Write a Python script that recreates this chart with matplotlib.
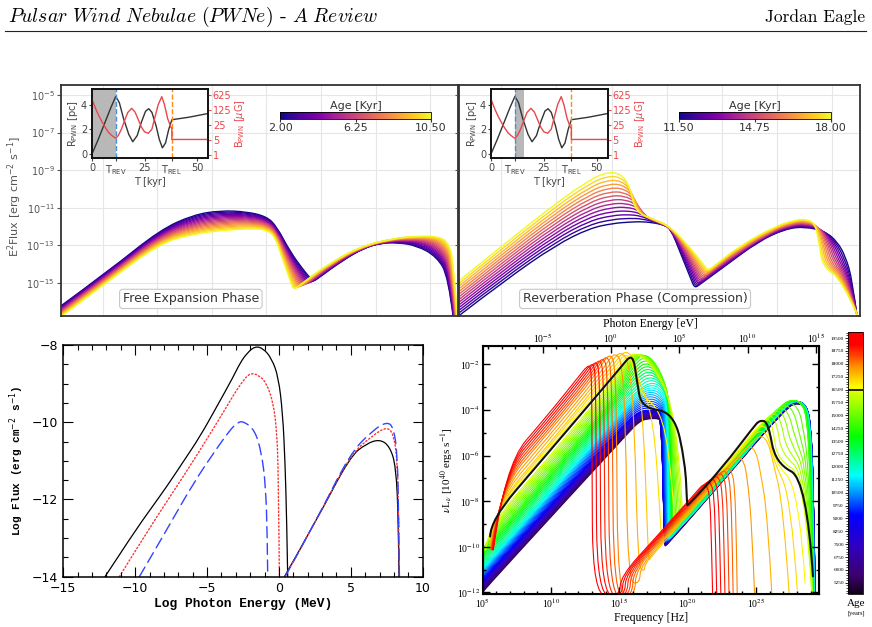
import numpy as np
import matplotlib
matplotlib.use("Agg")
import matplotlib.pyplot as plt
from matplotlib.colors import LinearSegmentedColormap, Normalize
from matplotlib.cm import ScalarMappable
from matplotlib.lines import Line2D
from matplotlib.path import Path
from matplotlib.patches import PathPatch
from matplotlib.ticker import MultipleLocator, NullFormatter

plt.rcParams['font.family'] = ['DejaVu Sans']
plt.rcParams['font.serif'] = ['Liberation Serif', 'DejaVu Serif']

# ---------------- data ----------------
# top panels: log10 photon energy [eV] vs log10 E^2 flux, first and last age of each fan
free_ages = [2.0, 2.5, 3.0, 3.5, 4.0, 4.5, 5.0, 5.5, 6.0, 6.5, 7.0, 7.5, 8.0, 8.5, 9.0, 9.5, 10.0, 10.5]
free_key_ages = [2.0, 10.5]
free_logE = [
    [-5.365, -2.613, 0.139, 1.974, 3.442, 4.910, 6.011, 6.561, 7.295, 8.029, 8.45, 8.580, 8.95, 10.231, 11.332, 12.250, 13.167, 14.268, 15.369, 16.011, 16.286],
    [-5.365, -2.613, 0.139, 1.974, 3.809, 5.277, 6.011, 6.470, 6.837, 7.295, 7.40, 7.516, 7.80, 9.314, 11.148, 12.983, 14.451, 15.552, 16.011, 16.286, 16.507],
]
free_logF = [
    [-16.26, -14.31, -12.18, -11.38, -11.15, -11.21, -11.47, -12.00, -13.33, -14.31, -14.79, -14.93, -14.67, -13.78, -13.16, -12.89, -12.85, -13.01, -13.60, -14.66, -16.90],
    [-16.83, -14.84, -12.89, -12.39, -12.18, -12.11, -12.18, -12.54, -13.60, -14.84, -15.15, -15.34, -15.14, -14.04, -13.07, -12.62, -12.50, -12.54, -12.89, -13.78, -16.90],
]

rev_ages = [11.5, 12.0, 12.5, 13.0, 13.5, 14.0, 14.5, 15.0, 15.5, 16.0, 16.5, 17.0, 17.5, 18.0]
rev_key_ages = [11.5, 18.0]
rev_logE = [
    [-5.255, -2.778, -0.025, 1.809, 3.094, 4.011, 4.745, 5.479, 5.846, 6.213, 6.763, 7.35, 7.534, 7.85, 9.149, 10.983, 12.451, 13.552, 14.653, 15.295, 15.754, 16.121, 16.396],
    [-5.255, -2.778, -0.025, 1.809, 2.727, 3.461, 3.975, 4.286, 5.204, 6.213, 7.314, 8.05, 8.268, 8.60, 10.066, 11.901, 13.002, 13.644, 14.103, 14.341, 14.506, 15.571, 16.488],
]
rev_logF = [
    [-16.70, -14.84, -12.98, -12.09, -11.83, -11.76, -11.74, -11.83, -11.93, -12.09, -13.42, -14.85, -15.28, -15.05, -14.13, -12.80, -12.13, -12.00, -12.27, -12.80, -13.60, -14.84, -16.90],
    [-14.84, -12.89, -10.76, -9.52, -9.11, -9.17, -9.79, -11.21, -11.58, -12.00, -13.16, -14.07, -14.34, -14.09, -12.98, -12.00, -11.65, -11.61, -11.86, -13.07, -14.13, -14.84, -16.90],
]

# inset: PWN radius and magnetic field vs time
t_rev, t_rel = 11.3, 38.0
ins_t_r = [0, 3, 6, 9, 11.3, 13, 15, 17.5, 19.4, 21.5, 23.5, 25.5, 27, 28.5, 30.5, 32, 33.5, 35, 36.5, 38, 46, 55]
ins_r = [0, 1.2, 2.5, 3.8, 4.7, 4.2, 2.9, 1.6, 1.0, 1.5, 2.6, 3.5, 3.7, 3.4, 2.3, 1.2, 0.5, 0.9, 2.0, 2.8, 3.0, 3.3]
ins_t_b = [0, 1, 2, 3.5, 5, 6.5, 8, 9.5, 11.3, 12.5, 14, 15.5, 17, 18.9, 20.5, 22, 23.5, 25, 26.8, 28.5, 30, 31.5, 33.2, 34.5, 36, 37.5, 38, 38, 55]
ins_b = [400, 220, 125, 60, 32, 18, 11, 8, 6.0, 8, 16, 40, 95, 150, 100, 45, 20, 12, 10.3, 16, 60, 220, 525, 220, 50, 20, 17.5, 5.3, 5.3]

# bottom left: log photon energy [MeV] vs log flux
bl_black_x = [-12.10, -10.13, -8.97, -7.81, -6.65, -5.49, -4.33, -3.17, -2.71, -2.24, -1.67, -1.08, -0.51, -0.04, 0.26, 0.42, 0.54, 0.61]
bl_black_y = [-14.0, -12.88, -12.27, -11.67, -11.02, -10.37, -9.60, -8.82, -8.47, -8.22, -8.03, -8.09, -8.35, -8.82, -9.77, -10.98, -12.53, -14.0]
bl_red_x = [-11.10, -8.97, -6.65, -4.33, -3.17, -2.55, -2.01, -1.40, -0.85, -0.39, -0.16, -0.04, 0.03]
bl_red_y = [-14.0, -12.71, -11.41, -10.03, -9.30, -8.95, -8.72, -8.78, -8.99, -9.51, -10.20, -11.24, -14.0]
bl_blue_x = [-9.71, -7.81, -5.96, -4.33, -3.40, -2.94, -2.52, -1.67, -1.20, -0.92, -0.81, -0.78]
bl_blue_y = [-14.0, -12.79, -11.58, -10.68, -10.20, -10.03, -9.96, -10.20, -10.81, -11.67, -12.97, -14.0]
bl_ic_x = [0.38, 2.63, 4.94, 6.10, 7.03, 7.72, 8.14, 8.31, 8.35]
bl_ic_black = [-14.0, -12.53, -10.89, -10.55, -10.44, -10.63, -11.15, -12.53, -14.0]
bl_ic_x2 = [0.42, 2.63, 4.94, 6.56, 7.50, 7.96, 8.24, 8.33, 8.38]
bl_ic_red = [-14.0, -12.53, -10.85, -10.33, -10.12, -10.29, -10.98, -12.53, -14.0]
bl_ic_blue = [-14.0, -12.53, -10.81, -10.20, -9.99, -10.12, -10.81, -12.53, -14.0]

# bottom right: log frequency [Hz] vs log nuL_nu, spectra read at key ages [yr]
br_ages = np.arange(5250, 19501, 250)
br_key_ages = [5250, 9000, 12000, 14500, 16250, 16500, 17250, 18000, 19500]
br_lognu = [
    [4.98, 5.00, 10.41, 15.54, 16.51, 17.24, 17.73, 18.07, 18.27, 18.34, 18.39, 22.61, 27.24, 28.10, 28.71, 29.00, 29.20, 29.34],
    [4.98, 5.00, 10.41, 15.54, 16.39, 17.12, 17.73, 18.10, 18.24, 18.32, 18.37, 22.61, 27.24, 28.10, 28.71, 29.00, 29.20, 29.32],
    [4.98, 5.00, 10.41, 15.05, 16.51, 17.49, 18.27, 18.61, 18.68, 18.71, 18.76, 22.61, 27.00, 27.85, 28.59, 28.90, 29.10, 29.24],
    [4.98, 5.00, 10.41, 14.80, 16.15, 17.00, 17.98, 18.76, 18.88, 18.93, 18.98, 22.61, 26.76, 27.61, 28.34, 28.71, 28.95, 29.15],
    [5.24, 5.34, 9.68, 14.80, 15.66, 16.27, 17.49, 18.90, 19.49, 19.61, 19.68, 22.61, 25.17, 25.90, 26.27, 26.56, 28.59, 29.10],
    [5.54, 5.59, 9.20, 15.05, 15.98, 16.27, 16.63, 19.00, 19.83, 19.95, 20.02, 22.61, 24.80, 25.29, 25.90, 26.41, 28.71, 29.17],
    [5.54, 5.83, 9.93, 14.44, 15.24, 15.66, 16.22, 16.76, 17.10, 17.17, 17.24, 20.17, 24.56, 25.24, 25.83, 26.22, 27.00, 27.44],
    [5.59, 6.22, 9.68, 13.34, 14.02, 14.44, 14.66, 14.80, 14.88, 16.15, 16.20, 18.95, 22.37, 22.90, 23.24, 23.44, 23.56, 23.63],
    [5.78, 6.63, 9.68, 12.12, 12.61, 12.90, 12.98, 13.00, 13.05, 15.05, 15.07, 17.73, 20.66, 21.15, 21.46, 21.63, 21.73, 21.83],
]
br_logL = [
    [-12.00, -11.96, -8.42, -5.08, -4.47, -4.38, -4.38, -4.44, -8.82, -9.93, -9.99, -7.09, -3.88, -3.68, -3.93, -4.73, -7.36, -12.18],
    [-11.47, -11.43, -7.87, -4.51, -4.07, -4.00, -4.03, -4.15, -8.53, -9.81, -9.87, -6.95, -3.78, -3.59, -3.82, -4.58, -7.07, -12.18],
    [-10.88, -10.83, -7.21, -3.93, -3.05, -2.76, -3.12, -3.85, -8.23, -9.55, -9.62, -7.07, -3.88, -3.56, -3.78, -4.44, -6.63, -12.18],
    [-10.15, -10.10, -6.37, -3.30, -1.78, -1.52, -2.22, -3.64, -7.65, -8.96, -9.04, -6.60, -3.82, -3.53, -3.71, -4.29, -6.63, -12.18],
    [-10.13, -9.18, -6.19, -2.54, -1.66, -1.49, -2.10, -3.78, -6.92, -8.60, -8.64, -6.63, -4.73, -4.29, -4.88, -6.19, -6.89, -12.18],
    [-9.55, -8.82, -6.29, -2.18, -1.49, -2.69, -3.93, -4.09, -6.34, -8.16, -8.20, -6.48, -4.76, -4.44, -4.55, -6.34, -7.04, -11.30],
    [-9.99, -8.31, -5.46, -2.10, -1.49, -1.47, -1.88, -4.44, -10.13, -10.60, -10.50, -8.50, -5.49, -5.11, -5.31, -6.19, -8.23, -12.18],
    [-10.13, -7.53, -5.09, -2.42, -1.69, -1.61, -2.03, -4.44, -12.18, -12.18, -10.93, -9.11, -6.80, -6.51, -6.70, -7.36, -9.55, -12.18],
    [-10.13, -6.41, -4.29, -2.47, -2.10, -2.07, -2.98, -5.90, -12.18, -12.18, -11.30, -9.55, -7.58, -7.24, -7.36, -7.94, -9.55, -12.18],
]
br_highlight = 16500
br_cbar_ticks = np.arange(5250, 19501, 750)

# ---------------- helpers ----------------
W, H = 872, 627
fig = plt.figure(figsize=(W / 100, H / 100), dpi=100)


def box(l, t, r, b):
    return [l / W, 1 - b / H, (r - l) / W, (b - t) / H]


def fan(key_ages, kx, ky, age):
    # spectra between two read ages are blended to draw the colour fan
    kx, ky = np.asarray(kx), np.asarray(ky)
    i = int(np.clip(np.searchsorted(key_ages, age, side='right') - 1, 0, len(key_ages) - 2))
    t = (age - key_ages[i]) / (key_ages[i + 1] - key_ages[i])
    return (1 - t) * kx[i] + t * kx[i + 1], (1 - t) * ky[i] + t * ky[i + 1]


def curve(ax, lx, ly, log=True, **kw):
    # smooth quadratic bezier through the read points (drawn by matplotlib's path renderer)
    p = np.column_stack([lx, ly]).astype(float)
    verts, codes = [p[0]], [Path.MOVETO]
    for i in range(1, len(p) - 1):
        end = p[i + 1] if i == len(p) - 2 else (p[i] + p[i + 1]) / 2
        verts += [p[i], end]
        codes += [Path.CURVE3, Path.CURVE3]
    verts = np.array(verts)
    if log:
        verts = 10 ** verts
    ax.add_patch(PathPatch(Path(verts, codes), fill=False, capstyle='round', joinstyle='round', **kw))


# ---------------- header ----------------
fig.text(8 / W, 1 - 22 / H, r'$\mathit{Pulsar\ Wind\ Nebulae\ (PWNe)}\text{ - }\mathit{A\ Review}$',
         math_fontfamily='cm', fontsize=14.2, ha='left', va='baseline')
fig.text(865 / W, 1 - 22 / H, 'Jordan Eagle', family='cmr10', fontsize=12.5, ha='right', va='baseline')
fig.add_artist(Line2D([5 / W, 866 / W], [1 - 31 / H, 1 - 31 / H], color='#222222', lw=0.8))

# ---------------- top panels ----------------
gray = '#555555'


def top_panel(rect, ages, key_ages, kx, ky, label_left, text):
    ax = fig.add_axes(rect)
    norm = Normalize(ages[0], ages[-1])
    for a in ages:
        x, y = fan(key_ages, kx, ky, a)
        curve(ax, x, y, ec=plt.cm.plasma(norm(a)), lw=1.0)
    ax.set_xscale('log')
    ax.set_yscale('log')
    ax.set_xlim(10 ** -5.31, 10 ** 16.54)
    ax.set_ylim(10 ** -16.76, 10 ** -4.47)
    ax.set_xticks([10.0 ** k for k in range(-3, 16, 3)], [''] * 7)
    ax.set_yticks([10.0 ** k for k in range(-5, -16, -2)],
                  [r'$10^{%d}$' % k for k in range(-5, -16, -2)])
    ax.minorticks_off()
    ax.grid(True, color='#e6e6e6', lw=0.8)
    ax.set_axisbelow(True)
    ax.tick_params(axis='x', length=0)
    ax.tick_params(axis='y', length=3, width=0.8, colors=gray, labelsize=7, pad=1.5,
                   labelleft=label_left)
    for s in ax.spines.values():
        s.set_color('#333333')
        s.set_linewidth(1.3)
    ax.text(*text[1], text[0], transform=ax.transAxes, ha='center', va='center', fontsize=9,
            color='#333333', bbox=dict(boxstyle='round,pad=0.25', fc='white', ec='#c8c8c8', lw=0.8))
    return ax


top_panel(box(61, 85, 458, 316), free_ages, free_key_ages, free_logE, free_logF, True,
          ('Free Expansion Phase', (0.327, 0.074)))
top_panel(box(459, 85, 860, 316), rev_ages, rev_key_ages, rev_logE, rev_logF, False,
          ('Reverberation Phase (Compression)', (0.439, 0.074)))
fig.text(15 / W, 1 - 197 / H, r'E$^2$Flux [erg cm$^{-2}$ s$^{-1}$]', rotation=90,
         ha='center', va='center', fontsize=8, color=gray)


def inset(rect, span):
    ai = fig.add_axes(rect)
    ai.axvspan(span[0], span[1], color='#b8b8b8', lw=0)
    ai.plot(ins_t_r, ins_r, color='#333333', lw=1)
    ai.axvline(t_rev, color='#4a90d9', ls='--', lw=1)
    ai.axvline(t_rel, color='#ff8c1a', ls='--', lw=1)
    ai.set_xlim(0, 55.2)
    ai.set_ylim(-0.33, 5.31)
    ai.set_xticks([0, t_rev, 25, t_rel, 50],
                  ['0', r'T$_{\rm REV}$', '25', r'T$_{\rm REL}$', '50'])
    ai.set_yticks([0, 2, 4])
    ai.tick_params(labelsize=7, length=2.5, pad=1, colors='#444444')
    ai.set_xlabel('T [kyr]', fontsize=7, labelpad=0, color='#444444')
    ai.set_ylabel(r'R$_{\rm PWN}$ [pc]', fontsize=7, labelpad=1, color='#444444')
    tw = ai.twinx()
    tw.set_yscale('log')
    tw.plot(ins_t_b, ins_b, color='#e8474b', lw=1)
    tw.set_ylim(0.725, 1190)
    tw.set_yticks([1, 5, 25, 125, 625], ['1', '5', '25', '125', '625'])
    tw.minorticks_off()
    tw.tick_params(labelsize=7, length=2.5, pad=1, colors='#e8474b')
    tw.set_ylabel(r'B$_{\rm PWN}$ [$\mu$G]', fontsize=7, color='#e8474b', labelpad=1)
    for a in (ai, tw):
        for s in a.spines.values():
            s.set_linewidth(1.2)
            s.set_color('#111111')


inset(box(92, 89, 208, 158), (0, t_rev))
inset(box(491, 89, 607.7, 158), (t_rev, 15.5))


def age_bar(rect, lo, hi):
    cax = fig.add_axes(rect)
    cb = fig.colorbar(ScalarMappable(Normalize(lo, hi), 'plasma'), cax=cax, orientation='horizontal')
    mid = (lo + hi) / 2
    cb.set_ticks([lo, mid, hi], labels=['%.2f' % v for v in (lo, mid, hi)])
    cax.tick_params(labelsize=8, length=2, pad=1, colors='#333333')
    cax.set_title('Age [Kyr]', fontsize=8, pad=2, color='#333333')
    cb.outline.set_linewidth(0.6)


age_bar(box(280, 112, 431, 119), free_ages[0], free_ages[-1])
age_bar(box(679, 112, 831, 119), rev_ages[0], rev_ages[-1])

# ---------------- bottom left ----------------
ax = fig.add_axes(box(63.3, 345, 422.7, 576.7))
dash = (0, (8, 4))
curve(ax, bl_black_x, bl_black_y, log=False, ec='k', lw=0.9)
curve(ax, bl_red_x, bl_red_y, log=False, ec='#ff3030', ls=':', lw=1.0)
curve(ax, bl_blue_x, bl_blue_y, log=False, ec='#3344ff', ls=dash, lw=1.0)
curve(ax, bl_ic_x, bl_ic_black, log=False, ec='k', lw=0.9)
curve(ax, bl_ic_x2, bl_ic_red, log=False, ec='#ff3030', ls=':', lw=1.0)
curve(ax, bl_ic_x2, bl_ic_blue, log=False, ec='#3344ff', ls=dash, lw=1.0)
ax.set_xlim(-15, 10)
ax.set_ylim(-14, -8)
ax.set_xticks(range(-15, 11, 5))
ax.set_yticks([-14, -12, -10, -8])
ax.xaxis.set_minor_locator(MultipleLocator(1))
ax.yaxis.set_minor_locator(MultipleLocator(0.5))
ax.tick_params(which='both', direction='in', top=True, right=True, labelsize=9, width=0.8)
ax.tick_params(which='major', length=7, pad=4)
ax.tick_params(which='minor', length=3.5)
for s in ax.spines.values():
    s.set_linewidth(1.1)
ax.set_xlabel('Log Photon Energy (MeV)', family='Liberation Mono', weight='bold', fontsize=9.3, labelpad=2)
ax.set_ylabel(r'Log Flux (erg cm$^{-2}$ s$^{-1}$)', family='Liberation Mono', weight='bold', fontsize=8, labelpad=4)

# ---------------- bottom right ----------------
idl = LinearSegmentedColormap.from_list('idl_rainbow', [
    (0.0, '#120018'), (0.07, '#3c0070'), (0.18, '#3000c0'), (0.3, '#0000ff'), (0.45, '#00ffff'),
    (0.6, '#00ff00'), (0.76, '#c8ff00'), (0.79, '#ffff00'), (0.87, '#ff9000'), (0.95, '#ff0000'),
    (1.0, '#ff0000')])
br_norm = Normalize(4600, 19850)

ax = fig.add_axes(box(482.7, 346, 819, 594))
for a in br_ages:
    x, y = fan(br_key_ages, br_lognu, br_logL, a)
    curve(ax, x, y, ec=idl(br_norm(a)), lw=0.8)
k = br_key_ages.index(br_highlight)
curve(ax, br_lognu[k], br_logL[k], ec='#111111', lw=1.5)
ax.set_xscale('log')
ax.set_yscale('log')
ax.set_xlim(1e5, 10 ** 29.61)
ax.set_ylim(10 ** -12.07, 10 ** -1.2)
serif = dict(family='serif', math_fontfamily='stix', fontsize=7)
ax.set_xticks([10.0 ** e for e in range(5, 26, 5)], ['10$^{%d}$' % e for e in range(5, 26, 5)], **serif)
ax.set_xticks([10.0 ** e for e in range(6, 30) if e % 5], minor=True)
ax.set_yticks([10.0 ** e for e in range(-2, -13, -2)], ['10$^{%d}$' % e for e in range(-2, -13, -2)], **serif)
ax.set_yticks([10.0 ** e for e in range(-3, -12, -2)], minor=True)
ax.yaxis.set_minor_formatter(NullFormatter())
ax.xaxis.set_minor_formatter(NullFormatter())
ax.tick_params(which='both', direction='in', right=True, width=1.0, pad=2)
ax.tick_params(which='major', length=5)
ax.tick_params(which='minor', length=2.5)
for s in ax.spines.values():
    s.set_linewidth(1.5)
ax.set_xlabel('Frequency [Hz]', family='serif', fontsize=8.5, labelpad=1)
ax.set_ylabel(r'$\nu$L$_\nu$ [10$^{40}$ ergs s$^{-1}$]', family='serif', math_fontfamily='stix',
              fontsize=8, labelpad=1)

h_planck = 4.1357e-15
top = ax.twiny()
top.set_xscale('log')
top.set_xlim(h_planck * 1e5, h_planck * 10 ** 29.61)
top.set_xticks([10.0 ** e for e in range(-5, 16, 5)], ['10$^{%d}$' % e for e in range(-5, 16, 5)], **serif)
top.set_xticks([10.0 ** e for e in range(-9, 16) if e % 5], minor=True)
top.xaxis.set_minor_formatter(NullFormatter())
top.tick_params(which='both', direction='in', width=1.0, pad=1)
top.tick_params(which='major', length=5)
top.tick_params(which='minor', length=2.5)
top.set_xlabel('Photon Energy [eV]', family='serif', fontsize=8.5, labelpad=3)

cax = fig.add_axes(box(848, 332, 863, 594))
cb = fig.colorbar(ScalarMappable(br_norm, idl), cax=cax)
cb.set_ticks(br_cbar_ticks, labels=[str(v) for v in br_cbar_ticks])
cax.yaxis.set_ticks_position('left')
cax.yaxis.set_minor_locator(MultipleLocator(150))
cax.tick_params(which='major', length=2.5, width=0.6, labelsize=3.8, pad=0.5)
cax.tick_params(which='minor', length=1.5, width=0.5)
for lab in cax.get_yticklabels():
    lab.set_family('serif')
cax.axhline(br_highlight, color='k', lw=1.2)
cb.outline.set_linewidth(0.6)
fig.text(856 / W, 1 - 603 / H, 'Age', family='serif', fontsize=8, ha='center', va='center')
fig.text(856 / W, 1 - 613 / H, '[years]', family='serif', fontsize=4.5, ha='center', va='center')

fig.savefig('out.png', dpi=100)
